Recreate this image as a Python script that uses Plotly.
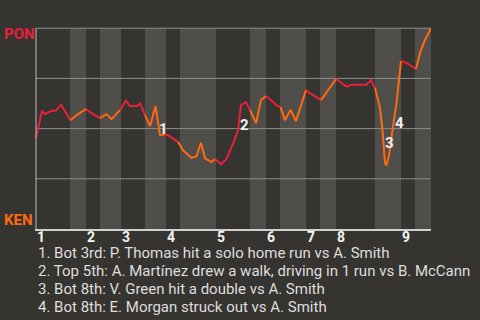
import plotly.graph_objects as go

# ---- data (x: game progress units, p: PON win probability) ----
prog = [0, 0.5, 1.2, 1.8, 3.1, 4.0, 5.0, 6.0, 6.9, 8.1, 10.0, 11.1, 12.8, 14.1, 15.1,
        16.8, 18.0, 18.8, 20.2, 20.8, 21.8, 22.8, 23.9, 24.8, 25.8, 26.4, 28.4, 29.4,
        31.1, 32.1, 33.0, 33.8, 35.1, 35.8, 37.0, 38.1, 39.4, 40.4, 41.0, 42.0, 42.8,
        44.0, 45.0, 46.0, 47.1, 48.1, 48.9, 49.8, 50.9, 52.0, 54.0, 54.8, 57.0, 58.1,
        60.0, 62.1, 63.1, 66.1, 67.0, 67.8, 68.8, 69.3, 69.8, 70.1, 70.6, 71.3, 72.1,
        73.0, 74.1, 76.0, 76.8, 77.8, 79.0]
win_prob = [0.454, 0.512, 0.589, 0.572, 0.589, 0.589, 0.619, 0.579, 0.542, 0.567, 0.597,
            0.577, 0.552, 0.572, 0.547, 0.592, 0.639, 0.612, 0.612, 0.627, 0.567, 0.512,
            0.612, 0.467, 0.472, 0.467, 0.434, 0.392, 0.354, 0.362, 0.429, 0.352, 0.334,
            0.349, 0.322, 0.349, 0.424, 0.492, 0.617, 0.632, 0.592, 0.527, 0.642, 0.662,
            0.637, 0.617, 0.607, 0.542, 0.594, 0.537, 0.692, 0.677, 0.642, 0.682, 0.747,
            0.709, 0.719, 0.719, 0.742, 0.702, 0.602, 0.492, 0.327, 0.317, 0.367, 0.492,
            0.627, 0.837, 0.827, 0.797, 0.877, 0.942, 1.0]

# half-inning boundaries (top1, bot1, top2, ...)
half_bounds = [0, 6.8, 10, 12.8, 17, 21.8, 26, 28.8, 36, 42.8, 46, 48.8, 54, 56.8,
               60, 67.8, 73, 75.8, 79]
inning_labels = ["1", "2", "3", "4", "5", "6", "7", "8", "9"]

event_labels = ["1", "2", "3", "4"]
event_x = [25.4, 41.6, 70.6, 72.6]
event_y = [0.497, 0.519, 0.429, 0.529]
event_texts = [
    "1. Bot 3rd: P. Thomas hit a solo home run vs A. Smith",
    "2. Top 5th: A. Martínez drew a walk, driving in 1 run vs B. McCann",
    "3. Bot 8th: V. Green hit a double vs A. Smith",
    "4. Bot 8th: E. Morgan struck out vs A. Smith",
]
teams = ["PON", "KEN"]
grid_levels = [0.25, 0.5, 0.75, 1.0]

RED = "#e8203a"
ORANGE = "#ff6a10"
BG = "#363430"
BAND = "#4f4e4b"
GRID = "#8e8e8c"
FONT = "Roboto"

Y_TOP = 1.006
PLOT_T, PLOT_H = 27, 202
PLOT_L, PLOT_W = 35, 396

fig = go.Figure()

# bands for bottom halves (stop at the 100% line)
for k in range(1, len(half_bounds) - 1, 2):
    fig.add_shape(type="rect", xref="x", yref="y", x0=half_bounds[k], x1=half_bounds[k + 1],
                  y0=0, y1=1.0, fillcolor=BAND, line_width=0, layer="below")

# horizontal grid lines
for g in grid_levels:
    fig.add_shape(type="line", xref="x", yref="y", x0=0, x1=79, y0=g, y1=g,
                  line=dict(color=GRID, width=1), layer="between")

# colour segments by half-inning
def half_of(xm):
    for k in range(len(half_bounds) - 1):
        if half_bounds[k] <= xm < half_bounds[k + 1]:
            return k
    return len(half_bounds) - 2

groups = []
for i in range(len(prog) - 1):
    c = RED if half_of((prog[i] + prog[i + 1]) / 2) % 2 == 0 else ORANGE
    if groups and groups[-1][0] == c:
        groups[-1][1].append(i + 1)
    else:
        groups.append([c, [i, i + 1]])

for c, idx in groups:
    fig.add_trace(go.Scatter(x=[prog[j] for j in idx], y=[win_prob[j] for j in idx],
                             mode="lines", line=dict(color=c, width=2), cliponaxis=False,
                             hoverinfo="skip", showlegend=False))

def ypaper(py):
    return (PLOT_T + PLOT_H - py) / PLOT_H

def xpaper(px):
    return (px - PLOT_L) / PLOT_W

anns = []
for lab, ex, ey in zip(event_labels, event_x, event_y):
    anns.append(dict(x=ex, y=ey, xref="x", yref="y", text=lab, showarrow=False,
                     font=dict(family=FONT, size=15, color="#f0f0f0", weight="bold")))

for i, lab in enumerate(inning_labels):
    anns.append(dict(x=half_bounds[2 * i], y=ypaper(237), xref="x", yref="paper", text=lab,
                     showarrow=False, xanchor="left", yanchor="middle", xshift=-1,
                     font=dict(family=FONT, size=14, color="#f4f4f4", weight="bold")))

for i, t in enumerate(event_texts):
    anns.append(dict(x=xpaper(37), y=ypaper(253 + 18 * i), xref="paper", yref="paper", text=t,
                     showarrow=False, xanchor="left", yanchor="middle", xshift=-1,
                     font=dict(family=FONT, size=15, color="#dedede")))

anns.append(dict(x=xpaper(3), y=ypaper(33.5), xref="paper", yref="paper", text=teams[0],
                 showarrow=False, xanchor="left", yanchor="middle", xshift=-1,
                 font=dict(family=FONT, size=15, color=RED, weight="bold")))
anns.append(dict(x=xpaper(3), y=ypaper(219.5), xref="paper", yref="paper", text=teams[1],
                 showarrow=False, xanchor="left", yanchor="middle", xshift=-1,
                 font=dict(family=FONT, size=15, color=ORANGE, weight="bold")))

fig.update_layout(
    width=480, height=320,
    margin=dict(l=PLOT_L, r=480 - PLOT_L - PLOT_W, t=PLOT_T, b=320 - PLOT_T - PLOT_H, pad=0),
    paper_bgcolor=BG, plot_bgcolor=BG,
    annotations=anns,
    xaxis=dict(range=[-0.2, 79], showgrid=False, zeroline=False, showticklabels=False,
               ticks="", showline=True, linecolor="#d0d0d0", linewidth=2, fixedrange=True),
    yaxis=dict(range=[0, Y_TOP], showgrid=False, zeroline=False, showticklabels=False,
               ticks="", showline=False, fixedrange=True),
)

# left axis line from 0 up to the 100% line
fig.add_shape(type="line", xref="x", yref="y", x0=0, x1=0, y0=0, y1=1.0,
              line=dict(color="#bdbdbd", width=1), layer="above")

fig.write_html("out.html", config={"displayModeBar": False})
